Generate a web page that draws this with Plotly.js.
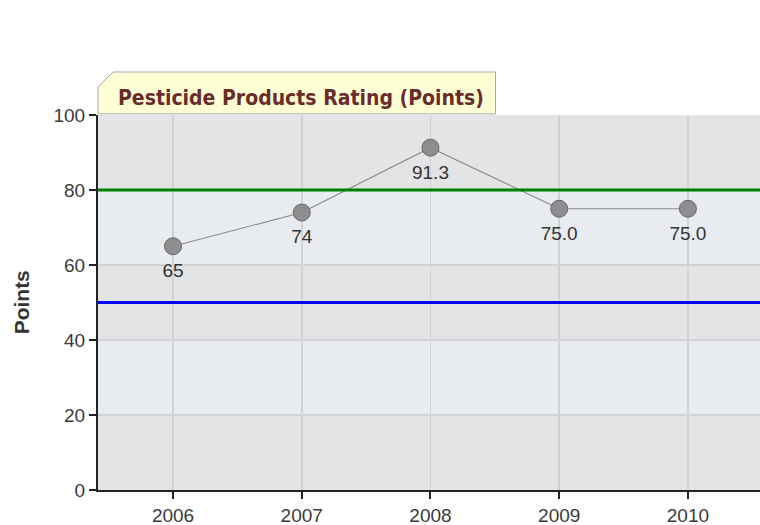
<!DOCTYPE html>
<html>
<head>
<meta charset="utf-8">
<script src="https://cdn.plot.ly/plotly-3.0.1.min.js"></script>
<style>html,body{margin:0;padding:0;background:#fff;}#chart{width:760px;height:525px;}</style>
</head>
<body>
<div id="chart"></div>
<script>
const years = [2006, 2007, 2008, 2009, 2010];
const points = [65, 74, 91.3, 75, 75];
const pointLabels = ["65", "74", "91.3", "75.0", "75.0"];
const yTicks = [0, 20, 40, 60, 80, 100];
const upperTarget = 80;
const lowerTarget = 50;
const chartTitle = "Pesticide Products Rating (Points)";
const yTitle = "Points";

const FONT = 'Liberation Sans, Arial, sans-serif';

const lineTrace = {
  x: years,
  y: points,
  type: 'scatter',
  mode: 'lines+markers',
  line: {color: '#8c8c8c', width: 1.2},
  marker: {size: 17, color: '#8e8e8e', line: {color: '#666', width: 1}},
  hoverinfo: 'x+y',
  cliponaxis: false
};

const labelTrace = {
  x: years,
  y: points,
  text: pointLabels,
  type: 'scatter',
  mode: 'markers+text',
  textposition: 'bottom center',
  textfont: {family: FONT, size: 19, color: '#333'},
  marker: {size: 25, opacity: 0},
  hoverinfo: 'skip',
  cliponaxis: false
};

const bandColor = '#e8ebef';
const shapes = [
  {type: 'rect', xref: 'paper', yref: 'y', x0: 0, x1: 1, y0: 20, y1: 40, fillcolor: bandColor, line: {width: 0}, layer: 'below'},
  {type: 'rect', xref: 'paper', yref: 'y', x0: 0, x1: 1, y0: 60, y1: 80, fillcolor: bandColor, line: {width: 0}, layer: 'below'},
  {type: 'line', xref: 'paper', yref: 'y', x0: 0, x1: 1, y0: upperTarget, y1: upperTarget, line: {color: '#008000', width: 3}},
  {type: 'line', xref: 'paper', yref: 'y', x0: 0, x1: 1, y0: lowerTarget, y1: lowerTarget, line: {color: '#0000ff', width: 3}},
  // title tab
  {type: 'path', xref: 'paper', yref: 'paper',
   path: 'M 0 1.003 L 0 1.075 L 0.0227 1.1147 L 0.6005 1.1147 L 0.6005 1.003 Z',
   fillcolor: '#ffffd6', line: {color: '#a8a8a8', width: 1}}
];

const layout = {
  width: 760, height: 525,
  margin: {l: 98, r: 0, t: 115, b: 35},
  paper_bgcolor: '#ffffff',
  plot_bgcolor: '#e3e4e6',
  showlegend: false,
  font: {family: FONT, size: 19, color: '#333'},
  xaxis: {
    range: [2005.417, 2010.56],
    tickvals: years,
    ticktext: years.map(String),
    showgrid: true, gridcolor: '#d2d2d4', gridwidth: 1.5,
    showline: true, linecolor: '#222', linewidth: 2,
    ticks: 'outside', ticklen: 7, tickcolor: '#222', tickwidth: 2,
    tickfont: {family: FONT, size: 19, color: '#3a3a3a'},
    zeroline: false, fixedrange: true
  },
  yaxis: {
    range: [0, 100],
    tickvals: yTicks,
    showgrid: true, gridcolor: '#d2d2d4', gridwidth: 1.5,
    showline: true, linecolor: '#222', linewidth: 2,
    ticks: 'outside', ticklen: 7, tickcolor: '#222', tickwidth: 2,
    tickfont: {family: FONT, size: 19, color: '#3a3a3a'},
    zeroline: false, fixedrange: true
  },
  shapes: shapes,
  annotations: [
    {text: '<b>' + chartTitle + '</b>', xref: 'paper', yref: 'paper', x: 0.027, y: 1.045,
     xanchor: 'left', yanchor: 'middle', showarrow: false,
     font: {family: 'DejaVu Sans Condensed, DejaVu Sans, sans-serif', size: 21, color: '#6b2b2b'}},
    {text: '<b>' + yTitle + '</b>', xref: 'paper', yref: 'paper', x: -0.115, y: 0.5,
     xanchor: 'center', yanchor: 'middle', textangle: -90, showarrow: false,
     font: {family: FONT, size: 21, color: '#333'}}
  ]
};

Plotly.newPlot('chart', [lineTrace, labelTrace], layout, {displayModeBar: false, staticPlot: true});
</script>
</body>
</html>
